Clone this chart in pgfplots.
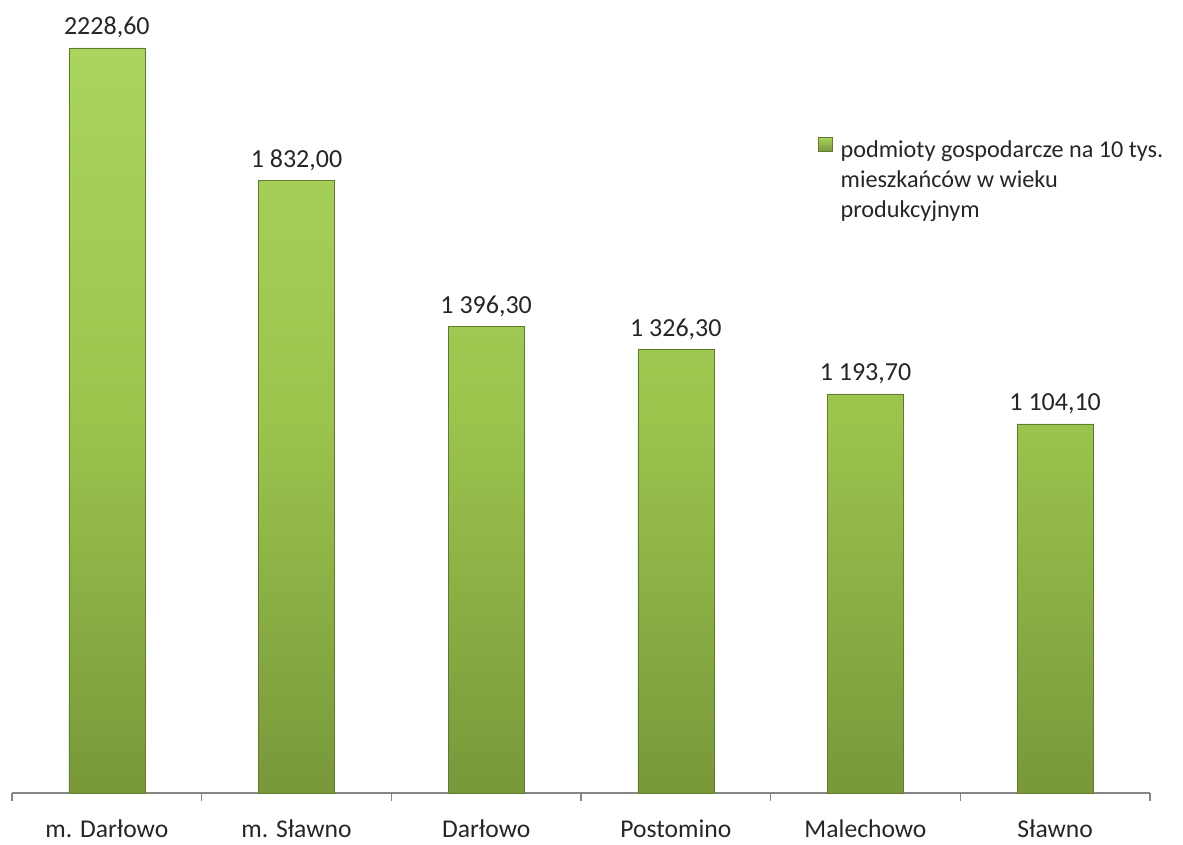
\documentclass[border=0pt]{standalone}
\usepackage{pgfplots}
\usepackage{pgfplotstable}
\pgfplotsset{compat=1.18}
\usepackage{fontspec}
\setmainfont{Carlito}
\definecolor{bartop}{HTML}{A9D45D}
\definecolor{barmid}{HTML}{9BC44D}
\definecolor{barbot}{HTML}{78983A}
\definecolor{axisgray}{HTML}{868686}
\pgfplotstableread[col sep=semicolon]{
x;y;lab
0;2228.6;2228,60
1;1832;1 832,00
2;1396.3;1 396,30
3;1326.3;1 326,30
4;1193.7;1 193,70
5;1104.1;1 104,10
}\data
\begin{document}
\fontsize{12.5}{15}\selectfont
\begin{tikzpicture}
\useasboundingbox (0,0) rectangle (591.5pt,422.5pt);
\begin{axis}[
  at={(6pt,26pt)}, anchor=south west,
  scale only axis,
  width=569pt, height=396.5pt,
  xmin=-0.5, xmax=5.5, ymin=0, ymax=2372,
  axis lines*=left,
  y axis line style={draw=none},
  x axis line style={draw=axisgray, line width=0.6pt},
  ytick=\empty,
  xtick={0,1,2,3,4,5},
  xticklabels={m. Darłowo, m. Sławno, Darłowo, Postomino, Malechowo, Sławno},
  major tick length=0pt,
  minor xtick={-0.5,0.5,1.5,2.5,3.5,4.5,5.5},
  minor tick length=4pt,
  tick align=outside,
  minor tick style={draw=axisgray, line width=0.6pt},
  xticklabel style={font=\fontsize{12.8}{15}\selectfont, anchor=base, yshift=-22.5pt, text depth=0pt, inner sep=1pt, text=black!85},
  clip=false,
  legend style={at={(rel axis cs:0.708,0.833)}, anchor=north west, draw=none, fill=none, inner sep=0pt,
    font=\fontsize{12.1}{15}\selectfont, text=black!85, column sep=2pt},
  legend cell align=left,
  legend image code/.code={\shade[top color=bartop, bottom color=barbot] (0pt,-1pt) rectangle (7pt,6pt);},
]
\addplot[ybar, bar width=38pt, draw=barbot!80!black, line width=0.3pt,
  top color=bartop, bottom color=barbot, middle color=barmid,
  point meta=explicit symbolic,
  nodes near coords, nodes near coords align={vertical},
  every node near coord/.append style={font=\fontsize{13}{15}\selectfont, text=black!85, yshift=0.5pt}]
  table[x=x, y=y, meta=lab] {\data};
\addlegendentry{\begin{tabular}[t]{@{}l@{}}podmioty gospodarcze na 10 tys.\\mieszkańców w wieku\\produkcyjnym\end{tabular}}
\end{axis}
\end{tikzpicture}
\end{document}
